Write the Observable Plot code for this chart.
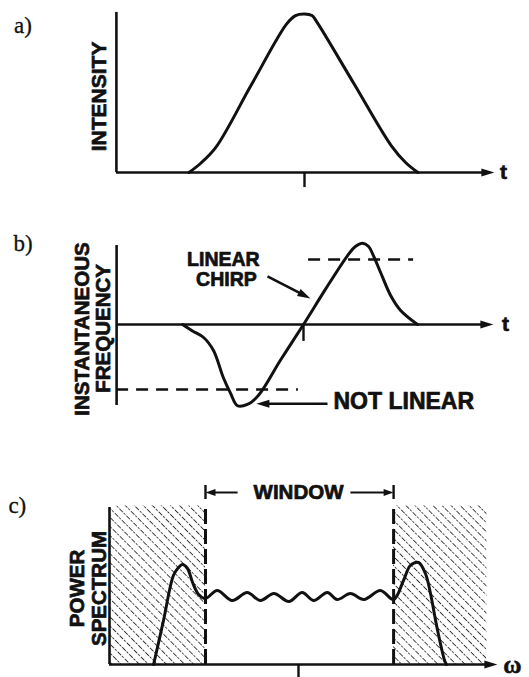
<!DOCTYPE html>
<html>
<head>
<meta charset="utf-8">
<script src="https://cdn.jsdelivr.net/npm/d3@7"></script>
<script src="https://cdn.jsdelivr.net/npm/@observablehq/plot@0.6"></script>
<style>
  html, body { margin: 0; padding: 0; background: #fff; }
  #figure { width: 529px; height: 677px; position: relative; overflow: hidden; background: #fff; }
  #figure svg { display: block; }
  g[aria-label="wide-note"] text { letter-spacing: 1.2px; }
</style>
</head>
<body>
<!-- diagonal hatching used for the spectral regions outside the window -->
<svg width="0" height="0" style="position:absolute">
  <defs>
    <pattern id="hatch" patternUnits="userSpaceOnUse" width="10" height="6.4" patternTransform="rotate(45)">
      <line x1="0" y1="3.2" x2="10" y2="3.2" stroke="#333" stroke-width="1.1" stroke-dasharray="5,1.2,2.3,1.5"/>
    </pattern>
  </defs>
</svg>
<div id="figure"></div>
<script>
// ---- a) pulse intensity envelope (time in arbitrary units, peak = 1) ----
const pulseTime = [-3.85, -3.45, -2.95, -1.78, -0.6, -0.3, 0, 0.25, 0.42, 1.65, 2.89, 3.37, 3.78];
const pulseIntensity = [0, 0.06, 0.16, 0.55, 0.936, 0.99, 1, 0.99, 0.947, 0.56, 0.17, 0.063, 0];

// ---- b) instantaneous frequency across the pulse ----
const chirpTime = [-4.03, -3.7, -3.33, -3.0, -2.67, -2.43, -2.2, -1.87, -1.5, -0.77, 0, 0.73, 1.47, 1.73, 1.97, 2.17, 2.33, 2.57, 2.9, 3.23, 3.8];
const chirpFreq = [0, -0.1, -0.2, -0.4, -0.82, -1.06, -1.25, -1.23, -1.09, -0.55, 0, 0.54, 1.06, 1.2, 1.25, 1.2, 1.06, 0.8, 0.45, 0.22, 0];
const chirpLevels = [1, -1];

// ---- c) power spectrum ----
const specOmega = [-4.83, -4.5, -4.17, -4.0, -3.87, -3.7, -3.53, -3.33, -3.1, -2.71, -2.21, -1.71, -1.27, -0.82, -0.32, 0.12, 0.51, 0.96, 1.29, 1.73, 2.18, 2.73, 3.17, 3.5, 3.73, 4.0, 4.23, 4.4, 4.57, 4.73, 4.87, 4.93];
const specPower = [0, 0.44, 0.89, 0.97, 1.0, 0.96, 0.82, 0.7, 0.66, 0.74, 0.64, 0.72, 0.64, 0.71, 0.63, 0.72, 0.64, 0.72, 0.65, 0.71, 0.65, 0.74, 0.65, 0.84, 0.99, 1.02, 0.91, 0.71, 0.44, 0.21, 0.04, 0];
const windowEdges = [-3.1, 3.17];
const spectrumSpan = [-6.3, 6.28];

// ---- drawing ----
const W = 529;
const KX = 30;              // pixels per time / frequency unit
const X_DOMAIN = [-6.4, 6.6];
const INK = "#111";
const SANS = "'Liberation Sans', Arial, Helvetica, sans-serif";
const SERIF = "'Liberation Serif', 'Times New Roman', serif";

// filled arrowhead, tip at the anchor point, pointing along `deg` (screen degrees)
function arrowHead(deg, length = 13, half = 4) {
  const a = deg * Math.PI / 180, c = Math.cos(a), s = Math.sin(a);
  const pts = [[0, 0], [-length, -half], [-length, half]].map(([x, y]) => [x * c - y * s, x * s + y * c]);
  return {
    draw(context) {
      context.moveTo(pts[0][0], pts[0][1]);
      context.lineTo(pts[1][0], pts[1][1]);
      context.lineTo(pts[2][0], pts[2][1]);
      context.closePath();
    }
  };
}

// shaft + head between two data points of a panel with vertical scale ky
function arrowMarks(from, tip, ky, {length = 13, half = 4, width = 2.6} = {}) {
  const dx = (tip[0] - from[0]) * KX, dy = -(tip[1] - from[1]) * ky;
  const len = Math.hypot(dx, dy);
  const back = length - 3;
  const end = [tip[0] - back * dx / len / KX, tip[1] + back * dy / len / ky];
  const deg = Math.atan2(dy, dx) * 180 / Math.PI;
  return [
    Plot.link([{from, end}], {x1: d => d.from[0], y1: d => d.from[1], x2: d => d.end[0], y2: d => d.end[1], stroke: INK, strokeWidth: width}),
    Plot.dot([tip], {x: d => d[0], y: d => d[1], r: 5, symbol: arrowHead(deg, length, half), fill: INK})
  ];
}

function panel({height, x0, y0, ky, yDomain, marks}) {
  return Plot.plot({
    width: W,
    height,
    marginLeft: x0 + X_DOMAIN[0] * KX,
    marginRight: W - (x0 + X_DOMAIN[1] * KX),
    marginTop: y0 - yDomain[1] * ky,
    marginBottom: height - (y0 - yDomain[0] * ky),
    x: {domain: X_DOMAIN, axis: null},
    y: {domain: yDomain, axis: null},
    style: {background: "transparent", overflow: "visible", color: INK},
    marks
  });
}

// heavy sans labels (a thin stroke of the same ink thickens the bold face)
const txt = (s, o) => Plot.text([s], {text: d => d, fill: INK, stroke: INK, strokeWidth: 0.7, fontFamily: SANS, fontWeight: "bold", ...o});
const tag = (s, o) => Plot.text([s], {text: d => d, textAnchor: "start", fontFamily: SERIF, fontSize: 23, fill: INK, stroke: INK, strokeWidth: 0.3, ...o});

// a) intensity
const axisA = -6.27, tipA = 6.33;
const plotA = panel({
  height: 215, x0: 304, y0: 172, ky: 158.5, yDomain: [0, 1],
  marks: [
    Plot.ruleX([axisA], {y1: 0, y2: 1.01, stroke: INK, strokeWidth: 2.6}),
    Plot.ruleY([0], {x1: axisA, x2: tipA - 0.3, stroke: INK, strokeWidth: 2.6}),
    Plot.dot([0], {x: tipA, y: 0, r: 5, symbol: arrowHead(0), fill: INK}),
    Plot.ruleX([0], {y1: 0, y2: -0.095, stroke: INK, strokeWidth: 2.4}),
    Plot.line(pulseIntensity, {x: pulseTime, y: pulseIntensity, curve: "catmull-rom", stroke: INK, strokeWidth: 3}),
    txt("INTENSITY", {x: -6.83, y: 0.48, rotate: -90, fontSize: 21}),
    txt("t", {x: 6.63, y: 0, fontSize: 21}),
    tag("a)", {x: -9.68, y: 0.927})
  ]
});

// b) instantaneous frequency
const KB = 65, axisB = -6.23, tipB = 6.33;
const plotB = panel({
  height: 215, x0: 303, y0: 109, ky: KB, yDomain: [-1.25, 1.25],
  marks: [
    Plot.ruleX([axisB], {y1: -1.246, y2: 1.215, stroke: INK, strokeWidth: 2.6}),
    Plot.ruleY([0], {x1: axisB, x2: tipB - 0.3, stroke: INK, strokeWidth: 2.6}),
    Plot.dot([0], {x: tipB, y: 0, r: 5, symbol: arrowHead(0), fill: INK}),
    Plot.ruleX([0], {y1: 0, y2: -0.26, stroke: INK, strokeWidth: 2.4}),
    Plot.ruleY([chirpLevels[0]], {x1: 0.17, x2: 3.67, stroke: INK, strokeWidth: 2.5, strokeDasharray: "12,8"}),
    Plot.ruleY([chirpLevels[1]], {x1: axisB, x2: -0.17, stroke: INK, strokeWidth: 2.5, strokeDasharray: "12,8"}),
    Plot.line(chirpFreq, {x: chirpTime, y: chirpFreq, curve: "catmull-rom", stroke: INK, strokeWidth: 3}),
    txt("LINEAR", {x: -2.67, y: 0.99, fontSize: 19.5}),
    txt("CHIRP", {x: -2.57, y: 0.685, fontSize: 19.5}),
    ...arrowMarks([-1.2, 0.74], [0.23, 0.4], KB),
    txt("NOT LINEAR", {x: 1.0, y: -1.19, textAnchor: "start", fontSize: 23, ariaLabel: "wide-note"}),
    ...arrowMarks([0.8, -1.22], [-1.57, -1.22], KB),
    txt("INSTANTANEOUS", {x: -7.38, y: -0.07, rotate: -90, fontSize: 20.5}),
    txt("FREQUENCY", {x: -6.68, y: -0.06, rotate: -90, fontSize: 20.5}),
    txt("t", {x: 6.73, y: 0, fontSize: 21}),
    tag("b)", {x: -9.67, y: 1.246})
  ]
});

// c) power spectrum with the spectral window
const KC = 100, axisC = spectrumSpan[0], tipC = 6.63;
const hatchBands = [
  {x1: spectrumSpan[0], x2: windowEdges[0]},
  {x1: windowEdges[1], x2: spectrumSpan[1]}
];
const plotC = panel({
  height: 247, x0: 298, y0: 234, ky: KC, yDomain: [0, 1.6],
  marks: [
    Plot.rect(hatchBands, {x1: "x1", x2: "x2", y1: 0, y2: 1.585, fill: "url(#hatch)"}),
    Plot.ruleX(windowEdges, {y1: 0, y2: 1.57, stroke: INK, strokeWidth: 3, strokeDasharray: "15,5"}),
    Plot.ruleX([axisC], {y1: 0, y2: 1.57, stroke: INK, strokeWidth: 2.6}),
    Plot.ruleY([0], {x1: axisC, x2: tipC - 0.3, stroke: INK, strokeWidth: 2.6}),
    Plot.dot([0], {x: tipC, y: 0, r: 5, symbol: arrowHead(0), fill: INK}),
    Plot.ruleX([0], {y1: 0, y2: -0.14, stroke: INK, strokeWidth: 2.4}),
    Plot.line(specPower, {x: specOmega, y: specPower, curve: "catmull-rom", stroke: INK, strokeWidth: 3}),
    Plot.ruleX(windowEdges, {y1: 1.65, y2: 1.79, stroke: INK, strokeWidth: 2.4}),
    ...arrowMarks([-2.03, 1.72], [windowEdges[0], 1.72], KC, {length: 10, half: 3.5, width: 2}),
    ...arrowMarks([1.73, 1.72], [windowEdges[1], 1.72], KC, {length: 10, half: 3.5, width: 2}),
    txt("WINDOW", {x: 0, y: 1.72, fontSize: 20.5}),
    txt("POWER", {x: -7.38, y: 0.76, rotate: -90, fontSize: 20.5}),
    txt("SPECTRUM", {x: -6.62, y: 0.76, rotate: -90, fontSize: 20.5}),
    Plot.text(["ω"], {text: d => d, x: 7.13, y: 0, fontFamily: SERIF, fontWeight: "bold", fontSize: 25, fill: INK, stroke: INK, strokeWidth: 0.5}),
    tag("c)", {x: -9.67, y: 1.59})
  ]
});

const fig = document.getElementById("figure");
fig.append(plotA, plotB, plotC);
</script>
</body>
</html>
